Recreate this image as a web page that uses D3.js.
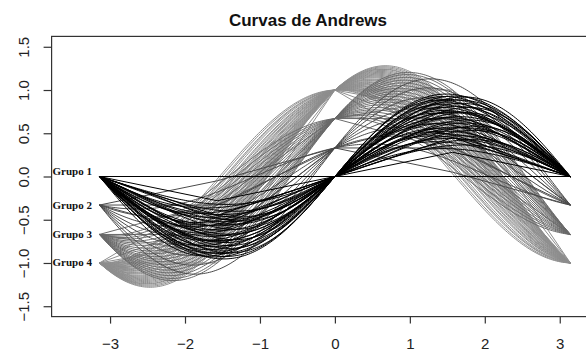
<!DOCTYPE html>
<html>
<head>
<meta charset="utf-8">
<script src="https://cdn.jsdelivr.net/npm/d3@7"></script>
<style>
  html, body { margin: 0; padding: 0; background: #fff; }
  svg { display: block; }
</style>
</head>
<body>
<svg id="chart" width="586" height="353"></svg>
<script>
// ---------------- data ----------------
const title = "Curvas de Andrews";
const groupNames = ["Grupo 1", "Grupo 2", "Grupo 3", "Grupo 4"];
// cos(t) coefficient shared by every observation of a group
const groupCos = [0, 0.33, 0.67, 1.0];
// sin(t) coefficient of every observation, per group
const sinG1 = [0.32, 0.36, 0.39, 0.41, 0.44, 0.45, 0.47, 0.49, 0.51, 0.52, 0.54, 0.56, 0.57, 0.59,
               0.61, 0.62, 0.64, 0.66, 0.68, 0.69, 0.71, 0.73, 0.74, 0.76, 0.78, 0.79, 0.81, 0.82,
               0.84, 0.85, 0.87, 0.88, 0.89, 0.91, 0.92, 0.93, 0.95, 0.55, 0.48, 0.75];
// sin(2t) coefficient of every observation of group 1
const sin2G1 = [0.02, -0.03, 0.05, -0.06, 0.01, 0.07, -0.02, 0.04, -0.08, 0.03, 0.06, -0.04, 0.0, 0.08,
                -0.05, 0.02, -0.07, 0.05, 0.03, -0.03, 0.09, -0.06, 0.01, 0.04, -0.09, 0.06, -0.02, 0.07,
                -0.05, 0.03, 0.08, -0.04, 0.02, -0.07, 0.05, -0.01, 0.04, -0.1, 0.1, 0.0];
const sinG2 = [0.18, 0.33, 0.47, 0.6, 0.72, 0.85, 0.97, 1.08];
const sinG3 = [0.1, 0.16, 0.22, 0.27, 0.33, 0.38, 0.43, 0.49, 0.54, 0.59, 0.64, 0.68, 0.72, 0.77,
               0.81, 0.85, 0.89, 0.93, 0.97, 1.0];
const sinG4 = [0.03, 0.06, 0.1, 0.12, 0.15, 0.19, 0.21, 0.24, 0.26, 0.29, 0.31, 0.33, 0.36, 0.38,
               0.4, 0.43, 0.45, 0.48, 0.5, 0.52, 0.55, 0.57, 0.59, 0.61, 0.63, 0.65, 0.67, 0.69,
               0.71, 0.73, 0.74, 0.76, 0.78, 0.8];
// observations drawn only at the quarter points of the period
const coarseG1 = [0, 0.28, 0.45];
const coarseG2 = [0.33, 0.7, 0.05];
const coarseG3 = [0.67, 0.3, 0.9];
const coarseG4 = [1.0, 0.5, 0.2, 0.75];
const xTicks = [-3, -2, -1, 0, 1, 2, 3];
const yTicks = [-1.5, -1, -0.5, 0, 0.5, 1, 1.5];

// ---------------- drawing ----------------
const svg = d3.select("#chart");
const x = d3.scaleLinear().domain([-3.78, 3.78]).range([51.6, 618.2]);
const y = d3.scaleLinear().domain([-1.62, 1.62]).range([316.6, 36.4]);

const colors = ["#000000", "#4a4a4a", "#6a6a6a", "#8e8e8e"];
const sinByGroup = [sinG1, sinG2, sinG3, sinG4];
const coarseByGroup = [coarseG1, coarseG2, coarseG3, coarseG4];

const andrews = (c, a, b) => t => c * Math.cos(t) + a * Math.sin(t) + b * Math.sin(2 * t);
const N = 240;
const tFine = d3.range(N + 1).map(i => -Math.PI + 2 * Math.PI * i / N);
const tCoarse = [-Math.PI, -Math.PI / 2, 0, Math.PI / 2, Math.PI];

const line = d3.line().x(d => x(d[0])).y(d => y(d[1]));

svg.append("defs").append("clipPath").attr("id", "clip")
  .append("rect").attr("x", 51.6).attr("y", 36.4).attr("width", 566.6).attr("height", 280.2);

const plot = svg.append("g").attr("clip-path", "url(#clip)");

// gray groups first, black group on top
[3, 2, 1, 0].forEach(gi => {
  const g = groupNames[gi];
  const c = groupCos[gi];
  const gg = plot.append("g").attr("class", "grupo").attr("data-name", g);
  sinByGroup[gi].forEach((a, i) => {
    const b = gi === 0 ? sin2G1[i] : 0;
    const f = andrews(c, a, b);
    gg.append("path")
      .attr("d", line(tFine.map(t => [t, f(t)])))
      .attr("fill", "none").attr("stroke", colors[gi]).attr("stroke-width", 1);
  });
  coarseByGroup[gi].forEach(a => {
    const f = andrews(c, a, 0);
    gg.append("path")
      .attr("d", line(tCoarse.map(t => [t, f(t)])))
      .attr("fill", "none").attr("stroke", colors[gi]).attr("stroke-width", 1);
  });
});

// box
svg.append("rect")
  .attr("x", 51.6).attr("y", 36.4).attr("width", 566.6).attr("height", 280.2)
  .attr("fill", "none").attr("stroke", "#333").attr("stroke-width", 1.2);

// axes
const xAxis = svg.append("g").attr("transform", "translate(0,316.6)")
  .call(d3.axisBottom(x).tickValues(xTicks).tickFormat(d3.format("d")).tickSize(7).tickPadding(15).tickSizeOuter(0));
xAxis.select(".domain").remove();
xAxis.selectAll("line").attr("stroke", "#333").attr("stroke-width", 1.2);
xAxis.selectAll("text").attr("font-family", "Liberation Sans, Arial, sans-serif")
  .attr("font-size", 15).attr("fill", "#222");

const yAxis = svg.append("g").attr("transform", "translate(51.6,0)")
  .call(d3.axisLeft(y).tickValues(yTicks).tickFormat(d3.format(".1f")).tickSize(8).tickSizeOuter(0));
yAxis.select(".domain").remove();
yAxis.selectAll("line").attr("stroke", "#333").attr("stroke-width", 1.2);
yAxis.selectAll("text")
  .attr("font-family", "Liberation Sans, Arial, sans-serif")
  .attr("font-size", 15).attr("fill", "#222")
  .attr("text-anchor", "middle")
  .attr("x", null).attr("dy", null)
  .attr("transform", "translate(-28,0) rotate(-90)")
  .attr("y", 0)
  .attr("dominant-baseline", "central");

// title
svg.append("text")
  .attr("x", 308).attr("y", 26)
  .attr("text-anchor", "middle")
  .attr("font-family", "Liberation Sans, Arial, sans-serif")
  .attr("font-weight", "bold").attr("font-size", 17)
  .attr("fill", "#111")
  .text(title);

// group labels at t = -pi
groupNames.forEach((g, gi) => {
  const v = -groupCos[gi];
  svg.append("text")
    .attr("x", 92).attr("y", y(v) + (gi === 0 ? -2 : 3.5))
    .attr("text-anchor", "end")
    .attr("font-family", "Liberation Serif, Times New Roman, serif")
    .attr("font-weight", "bold").attr("font-size", 11)
    .attr("fill", "#111")
    .text(g);
});
</script>
</body>
</html>
